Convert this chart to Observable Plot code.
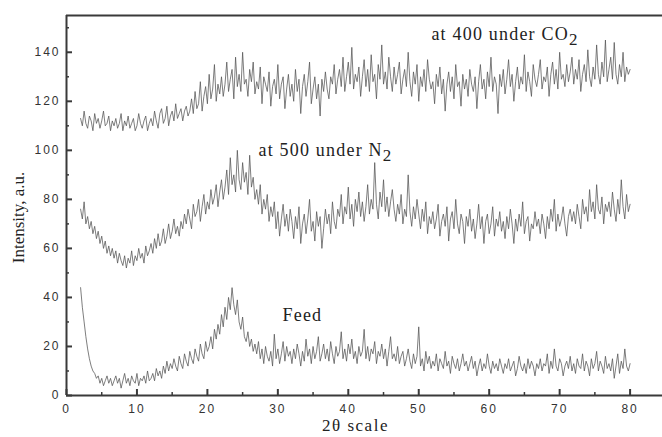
<!DOCTYPE html>
<html><head><meta charset="utf-8">
<script src="https://cdn.jsdelivr.net/npm/d3@7"></script>
<script src="https://cdn.jsdelivr.net/npm/@observablehq/plot@0.6"></script>
<style>body{margin:0;background:#fff}</style>
</head><body><div id="chart"></div>
<script>
const xStart = 2, xStep = 0.25;
const co2 = [
113,110,116,111,109,114,112,108,115,111,113,109,112,116,110,111,114,108,112,110,
113,109,111,115,108,112,110,114,109,111,113,108,110,115,111,109,112,114,108,111,
113,110,116,112,109,115,117,111,113,118,110,114,116,112,119,113,115,117,112,116,
118,114,116,121,115,124,117,119,128,116,122,126,119,131,121,125,135,120,127,123,
130,122,127,136,124,129,133,121,138,126,131,124,140,127,129,122,133,128,136,123,
128,125,134,119,130,127,124,132,118,126,129,123,135,121,127,130,117,125,131,122,
127,120,133,124,129,115,126,131,122,128,136,119,125,130,121,127,114,129,124,132,
125,121,130,127,135,123,129,133,126,138,124,130,136,127,142,125,131,128,134,122,
130,137,126,133,124,139,128,131,121,135,129,143,127,132,125,138,130,124,134,127,
131,136,123,129,133,126,140,128,122,132,127,135,120,130,126,133,124,137,129,125,
128,119,131,126,134,123,129,116,127,132,124,130,121,135,126,128,118,131,125,129,
122,133,127,124,130,117,128,135,125,129,121,132,126,138,124,130,127,115,131,126,
133,123,129,137,126,131,120,128,134,125,130,127,139,124,132,128,122,135,129,126,
131,137,125,130,128,134,122,131,136,127,133,125,140,129,131,126,135,128,132,138,
127,133,129,137,124,131,135,128,141,130,126,134,129,143,131,127,136,130,145,128,
133,138,129,144,131,127,135,130,140,128,134,131,133];
const n2 = [
76,72,79,70,73,68,71,66,69,64,67,62,65,60,63,58,61,57,60,56,
59,54,58,55,53,57,52,56,54,59,53,57,55,60,56,58,54,61,57,59,
62,58,64,60,66,61,63,68,62,65,70,64,67,72,66,69,65,71,68,74,
70,76,72,68,78,73,75,80,71,77,82,74,79,76,84,78,81,86,77,83,
88,80,85,92,82,97,86,90,83,100,88,84,95,87,91,82,98,85,89,80,
84,78,86,74,80,76,82,71,77,73,79,68,75,65,72,78,69,74,67,76,
71,64,73,68,77,62,70,74,66,72,80,67,71,63,75,69,73,60,68,76,
70,74,66,79,71,68,76,73,82,70,77,74,85,72,78,69,80,75,83,73,
79,71,77,86,74,80,76,95,78,72,83,77,88,75,81,73,79,84,76,71,
78,74,82,70,76,73,90,75,69,77,72,80,74,68,76,71,79,66,73,70,
75,68,72,78,65,71,74,69,77,63,72,75,68,80,70,66,74,71,62,73,
69,76,67,72,64,70,78,68,73,62,71,74,66,70,77,65,72,69,75,67,
71,64,73,68,76,70,62,72,67,74,69,79,66,71,73,63,70,68,75,69,
72,66,74,70,64,73,68,76,71,80,67,74,69,72,77,70,65,73,76,71,
75,70,78,73,68,80,74,77,71,84,75,79,72,86,76,74,81,70,78,75,
79,73,83,76,71,80,74,88,77,72,82,75,78];
const feed = [
44,36,30,24,19,15,12,10,9,7,8,5,7,4,6,8,5,7,4,6,
8,5,7,3,6,9,5,7,4,8,6,5,9,4,7,6,8,5,10,6,
7,9,6,11,8,10,7,12,9,14,10,13,11,15,12,10,16,13,11,17,
14,12,18,15,13,19,16,14,21,17,15,22,18,20,24,19,27,23,29,25,
33,28,36,31,40,35,44,37,33,39,30,27,32,24,22,26,20,23,18,21,
17,22,15,19,13,20,16,14,18,12,25,15,19,13,17,22,14,20,16,18,
13,19,15,21,17,12,18,14,23,16,19,13,20,15,18,24,14,17,21,15,
19,14,22,17,13,20,16,18,26,15,19,14,21,17,23,15,18,13,20,16,
18,27,15,20,14,19,17,22,13,18,16,21,15,19,12,18,24,15,17,14,
20,13,16,18,12,15,19,14,11,17,13,16,28,12,15,10,18,13,16,11,
14,12,17,10,15,13,11,18,12,14,9,16,13,11,15,10,13,17,12,14,
10,13,16,11,14,8,12,15,10,13,11,17,12,9,14,11,13,10,15,12,
9,13,11,15,10,12,14,8,11,16,12,10,13,9,15,11,14,12,8,13,
11,15,10,13,12,17,9,14,11,19,12,10,15,13,8,12,14,11,16,10,
13,9,15,12,11,17,10,14,12,8,15,11,13,18,10,14,12,9,16,11,
13,10,15,7,12,17,9,14,11,19,12,10,13];

const xMajor = [0,10,20,30,40,50,60,70,80];
const xMinor = [5,15,25,35,45,55,65,75];
const yMajor = [0,20,40,60,80,100,120,140];
const yMinor = [10,30,50,70,90,110,130,150];

const labels = [
  {text: "at 400 under CO", sub: "2", x: 51.8, y: 147.2},
  {text: "at 500 under N", sub: "2", x: 27.25, y: 99.9},
  {text: "Feed", sub: "", x: 30.66, y: 32.6}
];
const xTitle = "2θ scale";
const yTitle = "Intensity, a.u.";

const toPts = (arr, name) => arr.map((v, i) => ({x: xStart + i * xStep, y: v, s: name}));
const data = [...toPts(co2, "co2"), ...toPts(n2, "n2"), ...toPts(feed, "feed")];

const W = 662, H = 437, ML = 66, MR = 0, MT = 15, MB = 42;
const pw = W - ML - MR, ph = H - MT - MB;
const axisColor = "#3a3a3a";
const serif = "Liberation Serif, Times New Roman, serif";

const chart = Plot.plot({
  width: W, height: H,
  marginLeft: ML, marginRight: MR, marginTop: MT, marginBottom: MB,
  x: {domain: [0, 84.6], label: null},
  y: {domain: [0, 155], label: null},
  style: {fontFamily: "Liberation Sans, Arial, sans-serif", fontSize: "12px", color: "#333", background: "#fff"},
  marks: [
    Plot.line(data, {x: "x", y: "y", z: "s", stroke: "#555", strokeWidth: 0.85, strokeOpacity: 0.9}),
    Plot.ruleX([0], {stroke: axisColor, strokeWidth: 2}),
    Plot.ruleY([0], {stroke: axisColor, strokeWidth: 2}),
    Plot.ruleY([155], {stroke: axisColor, strokeWidth: 2}),
    Plot.tickY(yMajor, {y: d => d, stroke: axisColor, strokeWidth: 2, insetRight: pw - 6}),
    Plot.tickY(yMinor, {y: d => d, stroke: axisColor, strokeWidth: 1.5, insetRight: pw - 3}),
    Plot.tickX(xMajor, {x: d => d, stroke: axisColor, strokeWidth: 2, insetTop: ph - 6}),
    Plot.tickX(xMinor, {x: d => d, stroke: axisColor, strokeWidth: 1.5, insetTop: ph - 3}),
    Plot.axisY({ticks: yMajor, tickSize: 0, tickPadding: 6, fontSize: 12, fill: "#333"}),
    Plot.axisX({ticks: xMajor, tickSize: 0, tickPadding: 9, fontSize: 12, fill: "#333"}),
    Plot.text(labels, {x: "x", y: "y", text: "text", textAnchor: "start", fontFamily: serif, fontSize: 18, fill: "#222"}),
    Plot.text([xTitle], {frameAnchor: "bottom", dx: -9, dy: 35, text: d => d, fontFamily: serif, fontSize: 17, fill: "#222"}),
    Plot.text([yTitle], {frameAnchor: "left", textAnchor: "middle", dx: -48, dy: 12, rotate: -90, text: d => d, fontFamily: serif, fontSize: 17, fill: "#222"})
  ]
});
const svg = d3.select(chart);
const tickTexts = new Set([...xMajor, ...yMajor].map(String));
svg.selectAll("text").each(function() {
  const el = d3.select(this);
  const t = this.textContent;
  if (tickTexts.has(t)) el.style("letter-spacing", "2px");
  else if (t === xTitle) el.style("letter-spacing", "1.5px");
  else {
    const d = labels.find(l => l.text === t);
    if (d) {
      el.style("letter-spacing", "1.2px");
      if (d.sub) el.append("tspan").attr("dy", 5).attr("font-size", 17).text(d.sub);
    }
  }
});
document.getElementById("chart").appendChild(chart);
</script>
</body></html>
